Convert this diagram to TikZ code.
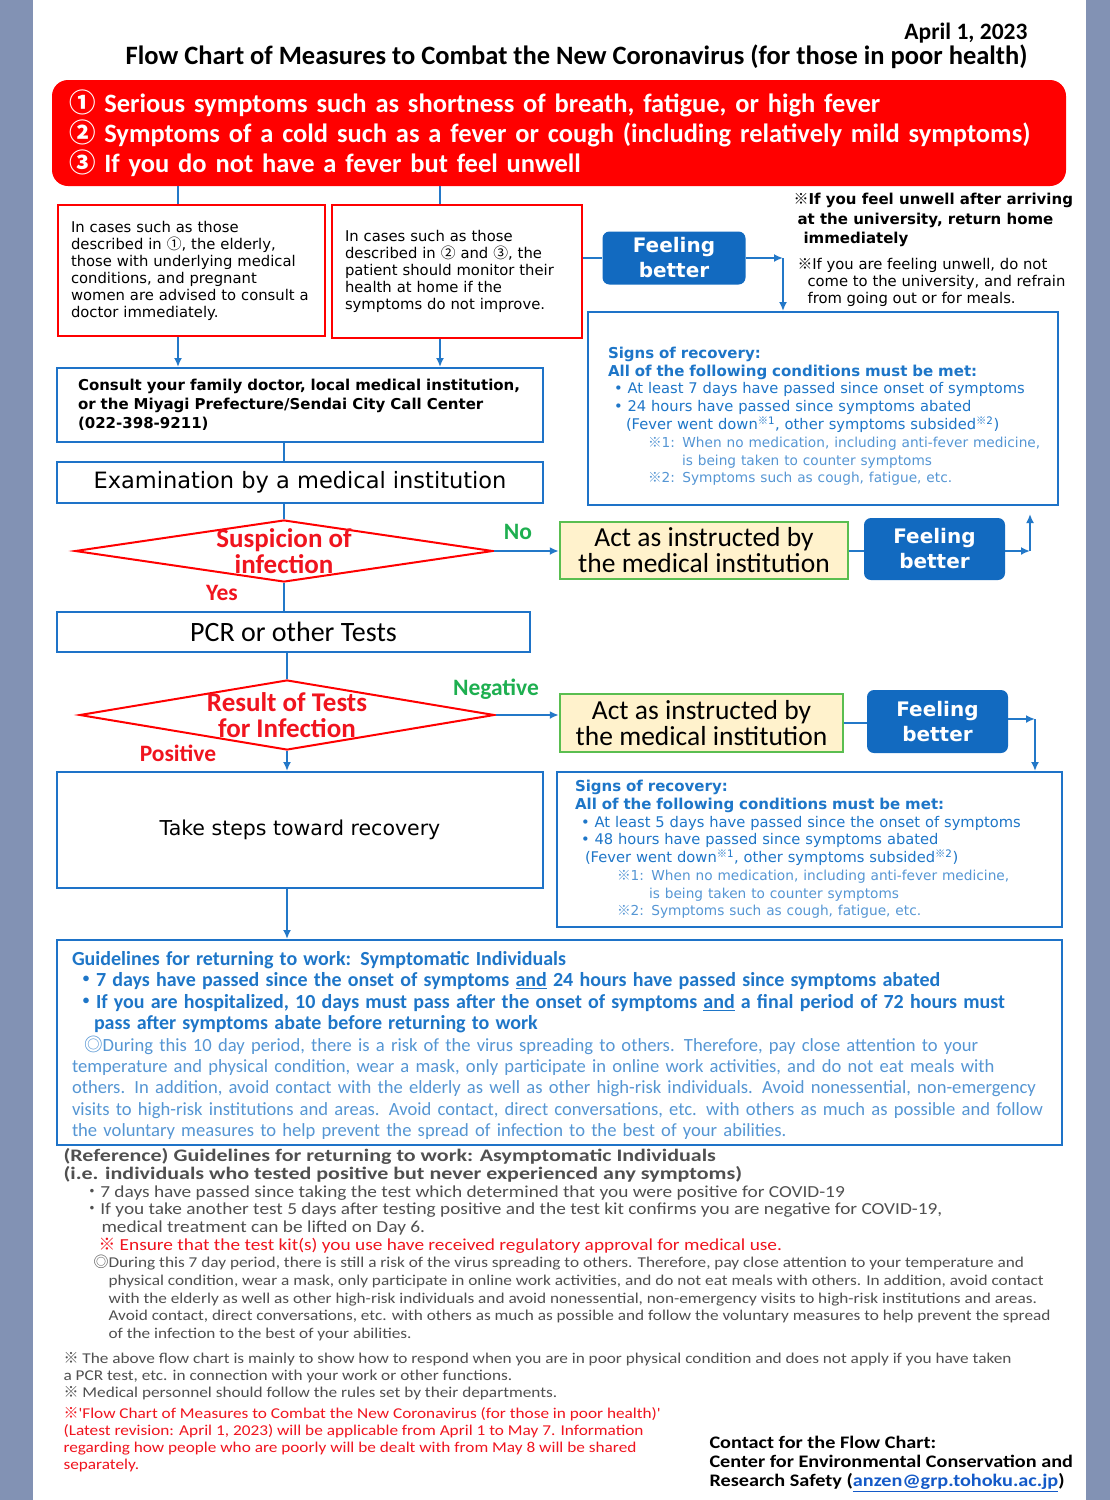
\documentclass[tikz,border=0pt]{standalone}
\usepackage{fontspec}
\setmainfont{Carlito}
\newfontfamily\dejavu{DejaVu Sans}
\newfontfamily\wide{Carlito}[FakeStretch=1.15]
\newfontfamily\wider{Carlito}[FakeStretch=1.25]
\newfontfamily\cjk{Noto Sans CJK JP}
\usetikzlibrary{shapes.geometric,arrows.meta}

\definecolor{sidegray}{RGB}{130,146,180}
\definecolor{symred}{RGB}{255,0,0}
\definecolor{dred}{RGB}{240,20,30}
\definecolor{boxblue}{RGB}{30,115,200}
\definecolor{lineblue}{RGB}{35,120,200}
\definecolor{fbblue}{RGB}{18,106,192}
\definecolor{actgreen}{RGB}{90,190,80}
\definecolor{cream}{RGB}{255,242,204}
\definecolor{ygreen}{RGB}{30,175,80}
\definecolor{sigblue}{RGB}{30,118,200}
\definecolor{siglight}{RGB}{85,150,212}
\definecolor{refgray}{RGB}{80,80,80}
\definecolor{mailblue}{RGB}{20,90,200}

\newcommand\fs[2]{\fontsize{#1}{#2}\selectfont}
\newcommand\km{{\cjk ※}}
\newcommand\mdot{{\cjk ・}}

\begin{document}
\begin{tikzpicture}[x=1pt,y=-1pt,>={Latex[length=9pt,width=8pt]},
  symbox/.style={fill=symred,rounded corners=16pt,text=white,align=left,
    inner xsep=17pt,font=\bfseries\fs{26.5}{30}},
  casebox/.style={draw=symred,line width=2.5pt,fill=white,align=left,
    inner xsep=13pt,font=\dejavu\fs{14.8}{17}},
  bluebox/.style={draw=boxblue,line width=2pt,fill=white},
  better/.style={fill=fbblue,rounded corners=7pt,text=white,align=center,
    font=\dejavu\bfseries\fs{20}{25}},
  actbox/.style={draw=actgreen,line width=2.5pt,fill=cream,align=center,
    font=\fs{27.5}{26}},
  decision/.style={diamond,draw=symred,line width=2pt,inner sep=0pt},
  dlabel/.style={text=dred,align=center,font=\bfseries\fs{27}{26}},
  yn/.style={font=\bfseries\fs{23.5}{24}},
  link/.style={draw=lineblue,line width=2pt}]

\useasboundingbox (0,0) rectangle (1110,1500);
\fill[sidegray] (0,0) rectangle (1110,1500);
\fill[white] (33,0) rectangle (1086,1500);

% heading
\node[anchor=east,font=\bfseries\fs{23.5}{26}] (date) at (1031,33) {April 1, 2023};
\node[anchor=east,font=\bfseries\fs{26.5}{28}] (title) at (1031,57)
  {Flow Chart of Measures to Combat the New Coronavirus (for those in poor health)};

\node[symbox,minimum width=1014pt,minimum height=106pt,text width=980pt] (sym) at (559,133)
  {{\cjk ①} Serious symptoms such as shortness of breath, fatigue, or high fever\\
   {\cjk ②} Symptoms of a cold such as a fever or cough (including relatively mild symptoms)\\
   {\cjk ③} If you do not have a fever but feel unwell};

% two cases
\node[casebox,minimum width=267pt,minimum height=131pt,text width=241pt] (caseA) at (191.5,270.5)
  {In cases such as those\\ described in {\cjk ①}, the elderly,\\ those with underlying medical\\
   conditions, and pregnant\\ women are advised to consult a\\ doctor immediately.};
\node[casebox,minimum width=250pt,minimum height=133pt,text width=224pt] (caseB) at (457,271.5)
  {In cases such as those\\ described in {\cjk ②} and {\cjk ③}, the\\ patient should monitor their\\
   health at home if the\\ symptoms do not improve.};

\node[better,minimum width=143pt,minimum height=53pt] (better1) at (674,258) {Feeling\\better};
\coordinate (t1) at (783,258);

\node[anchor=north west,align=left,font=\dejavu\bfseries\fs{15}{19.5}] (note1) at (790,190)
  {\km If you feel unwell after arriving\\ \hspace*{4pt}at the university, return home\\ \hspace*{10pt}immediately};
\node[anchor=north west,align=left,font=\dejavu\fs{14.8}{17}] (note2) at (794,255)
  {\km If you are feeling unwell, do not\\ \hspace*{10pt}come to the university, and refrain\\ \hspace*{10pt}from going out or for meals.};

% recovery (before tests)
\node[bluebox,minimum width=470pt,minimum height=193pt,text width=430pt,inner xsep=20pt,
  align=left,text=sigblue,font=\dejavu\fs{14.7}{17.8}] (recov1) at (823,408.5)
  {{\bfseries\fs{15}{17.8}\rule{0pt}{27pt}Signs of recovery:}\\
   {\bfseries\fs{15}{17.8}All of the following conditions must be met:}\\
   \hspace*{6pt}\textbullet\ At least 7 days have passed since onset of symptoms\\
   \hspace*{6pt}\textbullet\ 24 hours have passed since symptoms abated\\
   \hspace*{18pt}(Fever went down\textsuperscript{\km1}, other symptoms subsided\textsuperscript{\km2})\\
   \mbox{\color{siglight}\fs{13.7}{17.8}\hspace*{40pt}\km1: When no medication, including anti-fever medicine,}\\
   {\color{siglight}\fs{13.7}{17.8}\hspace*{74pt}is being taken to counter symptoms}\\
   {\color{siglight}\fs{13.7}{17.8}\hspace*{40pt}\km2: Symptoms such as cough, fatigue, etc.}};

% consultation
\node[bluebox,minimum width=486pt,minimum height=74pt,text width=444pt,inner xsep=21pt,
  align=left,font=\dejavu\bfseries\fs{15}{19}] (consult) at (300,405)
  {Consult your family doctor, local medical institution,\\
   or the Miyagi Prefecture/Sendai City Call Center\\ (022-398-9211)};
\node[bluebox,minimum width=486pt,minimum height=41pt,font=\dejavu\fs{22.5}{24}] (exam) at (300,482.5)
  {Examination by a medical institution};

% first decision
\node[decision,minimum width=418pt,minimum height=62pt,
  label={[dlabel]center:Suspicion of\\infection}] (susp) at (284,551) {};
\node[actbox,minimum width=288pt,minimum height=57pt] (actA) at (704,550.5)
  {Act as instructed by\\the medical institution};
\node[better,minimum width=141pt,minimum height=62pt] (better2) at (934.5,549) {Feeling\\better};
\coordinate (t2) at (1030,551);
\node[yn,text=ygreen] (no) at (518,532) {No};
\node[yn,text=dred] (yes) at (222,593) {Yes};

\node[bluebox,minimum width=473pt,minimum height=40pt,font=\fs{28}{28}] (pcr) at (293.5,632)
  {PCR or other Tests};

% second decision
\node[decision,minimum width=415pt,minimum height=70pt,
  label={[dlabel]center:Result of Tests\\for Infection}] (result) at (287,715) {};
\node[actbox,minimum width=283pt,minimum height=58pt] (actB) at (701.5,723)
  {Act as instructed by\\the medical institution};
\node[better,minimum width=141pt,minimum height=63pt] (better3) at (937.5,721.5) {Feeling\\better};
\coordinate (t3) at (1035,719);
\node[yn,text=ygreen] (neg) at (496,689) {Negative};
\node[yn,text=dred] (pos) at (178,753) {Positive};

\node[bluebox,minimum width=486pt,minimum height=116pt,font=\dejavu\fs{20.5}{22}] (steps) at (300,830)
  {Take steps toward recovery};

% recovery (after tests)
\node[bluebox,minimum width=505pt,minimum height=155pt,text width=469pt,inner xsep=18pt,
  align=left,text=sigblue,font=\dejavu\fs{14.7}{17.7}] (recov2) at (809.5,849.5)
  {{\bfseries\fs{15}{17.7}Signs of recovery:}\\
   {\bfseries\fs{15}{17.7}All of the following conditions must be met:}\\
   \hspace*{6pt}\textbullet\ At least 5 days have passed since the onset of symptoms\\
   \hspace*{6pt}\textbullet\ 48 hours have passed since symptoms abated\\
   \hspace*{10pt}(Fever went down\textsuperscript{\km1}, other symptoms subsided\textsuperscript{\km2})\\
   {\color{siglight}\fs{13.7}{17.7}\hspace*{42pt}\km1: When no medication, including anti-fever medicine,}\\
   {\color{siglight}\fs{13.7}{17.7}\hspace*{74pt}is being taken to counter symptoms}\\
   {\color{siglight}\fs{13.7}{17.7}\hspace*{42pt}\km2: Symptoms such as cough, fatigue, etc.}};

% guidelines
\node[bluebox,minimum width=1005pt,minimum height=205pt,text width=975pt,inner xsep=15pt,
  align=left,text=siglight,font=\fs{18.6}{21.4}] (guide) at (559.5,1042.5)
  {{\color{sigblue}\bfseries\fs{20}{21.4}\rule{0pt}{20pt}Guidelines for returning to work: Symptomatic Individuals}\\
   {\color{sigblue}\bfseries\fs{20}{21.4}\hspace*{4pt}\mdot 7 days have passed since the onset of symptoms \underline{and} 24 hours have passed since symptoms abated}\\
   {\color{sigblue}\bfseries\fs{20}{21.4}\hspace*{4pt}\mdot If you are hospitalized, 10 days must pass after the onset of symptoms \underline{and} a final period of 72 hours must}\\
   {\color{sigblue}\bfseries\fs{20}{21.4}\hspace*{22pt}pass after symptoms abate before returning to work}\\
   \hspace*{12pt}{\cjk ◎}During this 10 day period, there is a risk of the virus spreading to others. Therefore, pay close attention to your\\
   temperature and physical condition, wear a mask, only participate in online work activities, and do not eat meals with\\
   others. In addition, avoid contact with the elderly as well as other high-risk individuals. Avoid nonessential, non-emergency\\
   visits to high-risk institutions and areas. Avoid contact, direct conversations, etc. with others as much as possible and follow\\
   the voluntary measures to help prevent the spread of infection to the best of your abilities.};

% reference and notes
\node[anchor=north west,align=left,text=refgray,font=\wide\fs{15}{17.7}] (asym) at (60,1145)
  {{\wider\bfseries\fs{17.6}{17.7}(Reference) Guidelines for returning to work: Asymptomatic Individuals}\\
   {\wider\bfseries\fs{17.6}{17.7}(i.e. individuals who tested positive but never experienced any symptoms)}\\
   {\fs{16.8}{17.7}\hspace*{20pt}\mdot 7 days have passed since taking the test which determined that you were positive for COVID-19}\\
   {\fs{16.8}{17.7}\hspace*{20pt}\mdot If you take another test 5 days after testing positive and the test kit confirms you are negative for COVID-19,}\\
   {\fs{16.8}{17.7}\hspace*{38pt}medical treatment can be lifted on Day 6.}\\
   {\fs{16.8}{17.7}\hspace*{35pt}\color{dred}\km\ Ensure that the test kit(s) you use have received regulatory approval for medical use.}\\
   \hspace*{30pt}{\cjk ◎}During this 7 day period, there is still a risk of the virus spreading to others. Therefore, pay close attention to your temperature and\\
   \hspace*{45pt}physical condition, wear a mask, only participate in online work activities, and do not eat meals with others. In addition, avoid contact\\
   \hspace*{45pt}with the elderly as well as other high-risk individuals and avoid nonessential, non-emergency visits to high-risk institutions and areas.\\
   \hspace*{45pt}Avoid contact, direct conversations, etc. with others as much as possible and follow the voluntary measures to help prevent the spread\\
   \hspace*{45pt}of the infection to the best of your abilities.};
\node[anchor=north west,align=left,text=refgray,font=\wide\fs{15}{17}] (notes) at (60,1349)
  {\km\ The above flow chart is mainly to show how to respond when you are in poor physical condition and does not apply if you have taken\\
   a PCR test, etc. in connection with your work or other functions.\\
   \km\ Medical personnel should follow the rules set by their departments.};
\node[anchor=north west,align=left,text=dred,font=\wide\fs{15}{17}] (revise) at (60,1404)
  {\km'Flow Chart of Measures to Combat the New Coronavirus (for those in poor health)'\\
   (Latest revision: April 1, 2023) will be applicable from April 1 to May 7. Information\\
   regarding how people who are poorly will be dealt with from May 8 will be shared\\
   separately.};
\node[anchor=north west,align=left,font=\wide\bfseries\fs{17.6}{19}] (contact) at (706,1433)
  {Contact for the Flow Chart:\\ Center for Environmental Conservation and\\
   Research Safety ({\color{mailblue}\underline{anzen@grp.tohoku.ac.jp}})};

% connectors
\draw[link] ([xshift=-13.5pt]caseA.north |- sym.south) -- ([xshift=-13.5pt]caseA.north);
\draw[link] ([xshift=-17pt]caseB.north |- sym.south) -- ([xshift=-17pt]caseB.north);
\draw[link,->] ([xshift=-13.5pt]caseA.south) -- ([xshift=-13.5pt]caseA.south |- consult.north);
\draw[link,->] ([xshift=-17pt]caseB.south) -- ([xshift=-17pt]caseB.south |- consult.north);
\draw[link] (better1.west -| caseB.east) -- (better1.west);
\draw[link,->] (better1.east) -- (t1);
\draw[link,->] (t1) -- (t1 |- recov1.north);
\draw[link] (consult.south -| susp) -- (exam.north -| susp);
\draw[link] (exam.south -| susp) -- (susp.north);
\draw[link,->] (susp.east) -- (actA.west |- susp.east);
\draw[link] (actA.east) -- (better2.west |- actA.east);
\draw[link,->] (better2.east |- t2) -- (t2);
\draw[link,->] (t2) -- ([yshift=-8pt]t2 |- recov1.south);
\draw[link] (susp.south) -- (pcr.north -| susp);
\draw[link] (pcr.south -| result) -- (result.north);
\draw[link,->] (result.east) -- (actB.west |- result.east);
\draw[link] (actB.east) -- (better3.west |- actB.east);
\draw[link,->] (better3.east |- t3) -- (t3);
\draw[link,->] (t3) -- (t3 |- recov2.north);
\draw[link,->] (result.south) -- (steps.north -| result);
\draw[link,->] (steps.south -| result) -- (guide.north -| result);
\end{tikzpicture}
\end{document}
